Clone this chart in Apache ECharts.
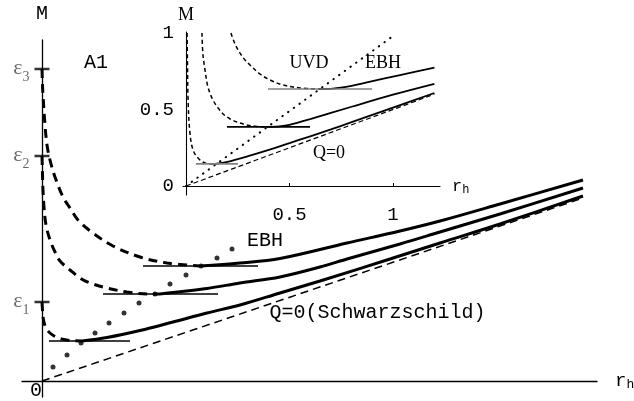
<!DOCTYPE html>
<html><head><meta charset="utf-8">
<script src="https://cdn.jsdelivr.net/npm/echarts@6/dist/echarts.min.js"></script>
<style>html,body{margin:0;padding:0;background:#fff}#c{width:634px;height:401px}</style>
</head><body><div id="c"></div>
<script>
// ---------- main plot (arbitrary units) ----------
const epsValues = [0.79, 2.25, 3.12];
const epsLabels = ['{e|ε}{s|1}', '{e|ε}{s|2}', '{e|ε}{s|3}'];
const schwLine = [[0, 0], [5.41, 1.83]];
const curve1Dashed = [[0,0.79],[0.005,0.71],[0.015,0.61],[0.04,0.53],[0.08,0.48],[0.14,0.44],[0.22,0.415],[0.31,0.403],[0.40,0.40]];
const curve1Solid = [[0.40,0.40],[0.65,0.435],[0.98,0.505],[1.31,0.59],[1.65,0.68],[1.98,0.76],[2.38,0.88],[2.78,1.00],[3.48,1.22],[3.98,1.38],[4.58,1.57],[5.41,1.85]];
const curve2Dashed = [[0,2.25],[0.005,2.06],[0.01,1.91],[0.02,1.74],[0.04,1.56],[0.08,1.41],[0.13,1.29],[0.18,1.20],[0.28,1.11],[0.38,1.03],[0.48,0.98],[0.65,0.93],[0.85,0.89],[1.08,0.87],[1.18,0.87]];
const curve2Solid = [[1.18,0.87],[1.31,0.885],[1.65,0.925],[1.98,0.98],[2.38,1.04],[2.78,1.14],[3.05,1.22],[3.58,1.37],[3.98,1.49],[4.58,1.67],[5.41,1.93]];
const curve3Dashed = [[0,3.12],[0.005,2.96],[0.01,2.86],[0.03,2.56],[0.05,2.36],[0.08,2.21],[0.13,2.04],[0.21,1.84],[0.28,1.73],[0.36,1.61],[0.51,1.48],[0.71,1.35],[0.98,1.24],[1.25,1.18],[1.58,1.15]];
const curve3Solid = [[1.58,1.15],[1.98,1.18],[2.38,1.225],[3.05,1.38],[3.58,1.50],[3.98,1.60],[4.58,1.77],[5.41,2.01]];
const hLine1 = [[0.07,0.40],[0.88,0.40]];
const hLine2 = [[0.61,0.87],[1.76,0.87]];
const hLine3 = [[1.01,1.15],[2.16,1.15]];
const ebhDots = [[0.11,0.14],[0.25,0.26],[0.39,0.38],[0.53,0.48],[0.67,0.58],[0.82,0.68],[0.97,0.78],[1.13,0.87],[1.28,0.97],[1.44,1.06],[1.59,1.15],[1.75,1.23],[1.90,1.32]];

// ---------- inset ----------
const insetXTicks = [0.5, 1];
const insetYTicks = [0, 0.5, 1];
const insA_dashed = [[0.005,1.0],[0.007,0.824],[0.01,0.562],[0.019,0.346],[0.034,0.235],[0.058,0.183],[0.092,0.150],[0.14,0.144]];
const insA_solid = [[0.14,0.144],[0.2,0.158],[0.3,0.195],[0.4,0.236],[0.5,0.28],[0.6,0.325],[0.7,0.37],[0.8,0.417],[1.0,0.512],[1.2,0.608]];
const insB_dashed = [[0.077,1.0],[0.082,0.856],[0.092,0.758],[0.106,0.647],[0.13,0.562],[0.155,0.51],[0.179,0.471],[0.213,0.438],[0.246,0.418],[0.295,0.399],[0.343,0.389],[0.391,0.386]];
const insB_solid = [[0.391,0.386],[0.45,0.39],[0.5,0.40],[0.6,0.437],[0.8,0.518],[1.0,0.597],[1.2,0.668]];
const insC_dashed = [[0.217,1.0],[0.237,0.928],[0.261,0.869],[0.285,0.824],[0.309,0.791],[0.357,0.732],[0.406,0.693],[0.469,0.66],[0.551,0.641],[0.638,0.634]];
const insC_solid = [[0.638,0.634],[0.71,0.637],[0.8,0.655],[0.874,0.677],[1.034,0.725],[1.2,0.773]];
const insHA = [[0.048,0.144],[0.251,0.144]];
const insHB = [[0.198,0.386],[0.599,0.386]];
const insHC = [[0.396,0.634],[0.899,0.634]];
const insEBH = [[0,0],[1.0,0.98]];
const insQ0 = [[0,0],[1.2,0.6]];

const MONO = '"Liberation Mono", monospace';
const SERIF = '"Liberation Serif", serif';

function line(data, opt) {
  return Object.assign({
    type: 'line', data: data, symbol: 'none', smooth: 0.35, silent: true,
    lineStyle: { color: '#000', width: 3 }
  }, opt);
}
function mainDash(d){ return line(d,{xAxisIndex:0,yAxisIndex:0,lineStyle:{color:'#000',width:3,type:[9,6]}}); }
function mainSolid(d){ return line(d,{xAxisIndex:0,yAxisIndex:0,lineStyle:{color:'#000',width:3}}); }
function mainH(d){ return line(d,{xAxisIndex:0,yAxisIndex:0,smooth:false,lineStyle:{color:'#000',width:1.6}}); }
function insDash(d){ return line(d,{xAxisIndex:1,yAxisIndex:1,lineStyle:{color:'#000',width:1.5,type:[4,3]}}); }
function insSolid(d){ return line(d,{xAxisIndex:1,yAxisIndex:1,lineStyle:{color:'#000',width:1.8}}); }
function insH(d,c){ return line(d,{xAxisIndex:1,yAxisIndex:1,smooth:false,lineStyle:{color:c,width:1.7}}); }

const chart = echarts.init(document.getElementById('c'), null, {renderer:'canvas'});
chart.setOption({
  animation: false,
  backgroundColor: '#fff',
  grid: [
    { left: 22, right: 37, top: 40, bottom: 4, containLabel: false, outerBoundsMode: 'none' },
    { left: 183, right: 194, top: 32, bottom: 206, containLabel: false, outerBoundsMode: 'none' }
  ],
  xAxis: [
    { type: 'value', gridIndex: 0, min: -0.2, max: 5.55,
      axisLine: { onZero: true, lineStyle: { color: '#000', width: 1.3 } },
      axisTick: { show: false }, axisLabel: { show: false }, splitLine: { show: false },
      name: '{r|r}{h|h}', nameLocation: 'end', nameGap: 18,
      nameTextStyle: { rich: { r: { fontFamily: MONO, fontSize: 19, color: '#000' }, h: { fontFamily: MONO, fontSize: 13, color: '#000', padding: [8,0,0,0] } } } },
    { type: 'value', gridIndex: 1, min: -0.0145, max: 1.227,
      axisLine: { onZero: true, lineStyle: { color: '#000', width: 1.1 } },
      axisTick: { show: true, inside: true, length: 3, customValues: insetXTicks, lineStyle: { color: '#000' } },
      axisLabel: { show: true, customValues: insetXTicks, margin: 10, fontFamily: MONO, fontSize: 19, color: '#000' },
      splitLine: { show: false },
      name: '{r|r}{h|h}', nameLocation: 'end', nameGap: 12,
      nameTextStyle: { rich: { r: { fontFamily: MONO, fontSize: 17, color: '#000' }, h: { fontFamily: MONO, fontSize: 12, color: '#000', padding: [8,0,0,0] } } } }
  ],
  yAxis: [
    { type: 'value', gridIndex: 0, min: -0.16, max: 3.41,
      axisLine: { onZero: true, lineStyle: { color: '#000', width: 1.3 } },
      axisTick: { show: false }, splitLine: { show: false }, axisLabel: { show: false },
      name: 'M', nameLocation: 'end', nameGap: 16,
      nameTextStyle: { fontFamily: MONO, fontSize: 20, color: '#000' } },
    { type: 'value', gridIndex: 1, min: -0.0588, max: 1.0065,
      axisLine: { onZero: true, lineStyle: { color: '#000', width: 1.1 } },
      axisTick: { show: false }, splitLine: { show: false },
      axisLabel: { show: true, customValues: insetYTicks, margin: 9, fontFamily: MONO, fontSize: 19, color: '#000' },
      name: 'M', nameLocation: 'end', nameGap: 8,
      nameTextStyle: { fontFamily: SERIF, fontSize: 18, color: '#000' } }
  ],
  series: [
    line(schwLine, { xAxisIndex:0, yAxisIndex:0, smooth:false, lineStyle:{ color:'#000', width:1.5, type:[8,5] } }),
    mainDash(curve1Dashed), mainDash(curve2Dashed), mainDash(curve3Dashed),
    mainSolid(curve1Solid), mainSolid(curve2Solid), mainSolid(curve3Solid),
    mainH(hLine1), mainH(hLine2), mainH(hLine3),
    { type: 'scatter', xAxisIndex:0, yAxisIndex:0, data: ebhDots, symbol: 'circle', symbolSize: 5, itemStyle: { color: '#000' }, silent: true },
    { type: 'scatter', xAxisIndex:0, yAxisIndex:0, data: epsValues.map(v => [0, v]), symbol: 'rect', symbolSize: [15, 2.5], itemStyle: { color: '#000' }, silent: true,
      label: { show: true, position: 'left', distance: 5, offset: [0, 2],
        formatter: function (p) { return epsLabels[p.dataIndex]; },
        rich: { e: { fontFamily: SERIF, fontSize: 22, color: '#444', verticalAlign: 'bottom', padding: [0,0,5,0] },
                s: { fontFamily: SERIF, fontSize: 14, color: '#444', verticalAlign: 'bottom' } } } },
    line(insQ0, { xAxisIndex:1, yAxisIndex:1, smooth:false, lineStyle:{ color:'#000', width:1.2, type:[5,3] } }),
    line(insEBH, { xAxisIndex:1, yAxisIndex:1, smooth:false, lineStyle:{ color:'#000', width:2, type:[0.5,6.5], cap:'round' } }),
    insDash(insA_dashed), insDash(insB_dashed), insDash(insC_dashed),
    insSolid(insA_solid), insSolid(insB_solid), insSolid(insC_solid),
    insH(insHA, '#808080'), insH(insHB, '#000'), insH(insHC, '#808080')
  ],
  graphic: [
    { type: 'text', x: 96, y: 63, style: { text: 'A1', font: '20px ' + MONO, fill: '#000', textAlign: 'center', textVerticalAlign: 'middle' } },
    { type: 'text', x: 265, y: 241, style: { text: 'EBH', font: '20px ' + MONO, fill: '#000', textAlign: 'center', textVerticalAlign: 'middle' } },
    { type: 'text', x: 377.5, y: 313, style: { text: 'Q=0(Schwarzschild)', font: '20px ' + MONO, fill: '#000', textAlign: 'center', textVerticalAlign: 'middle' } },
    { type: 'text', x: 36, y: 391, style: { text: '0', font: '20px ' + MONO, fill: '#000', textAlign: 'center', textVerticalAlign: 'middle' } },
    { type: 'text', x: 309, y: 63, style: { text: 'UVD', font: '18px ' + SERIF, fill: '#000', textAlign: 'center', textVerticalAlign: 'middle' } },
    { type: 'text', x: 383, y: 63, style: { text: 'EBH', font: '18px ' + SERIF, fill: '#000', textAlign: 'center', textVerticalAlign: 'middle' } },
    { type: 'text', x: 329, y: 153, style: { text: 'Q=0', font: '18px ' + SERIF, fill: '#000', textAlign: 'center', textVerticalAlign: 'middle' } }
  ]
});
</script></body></html>
